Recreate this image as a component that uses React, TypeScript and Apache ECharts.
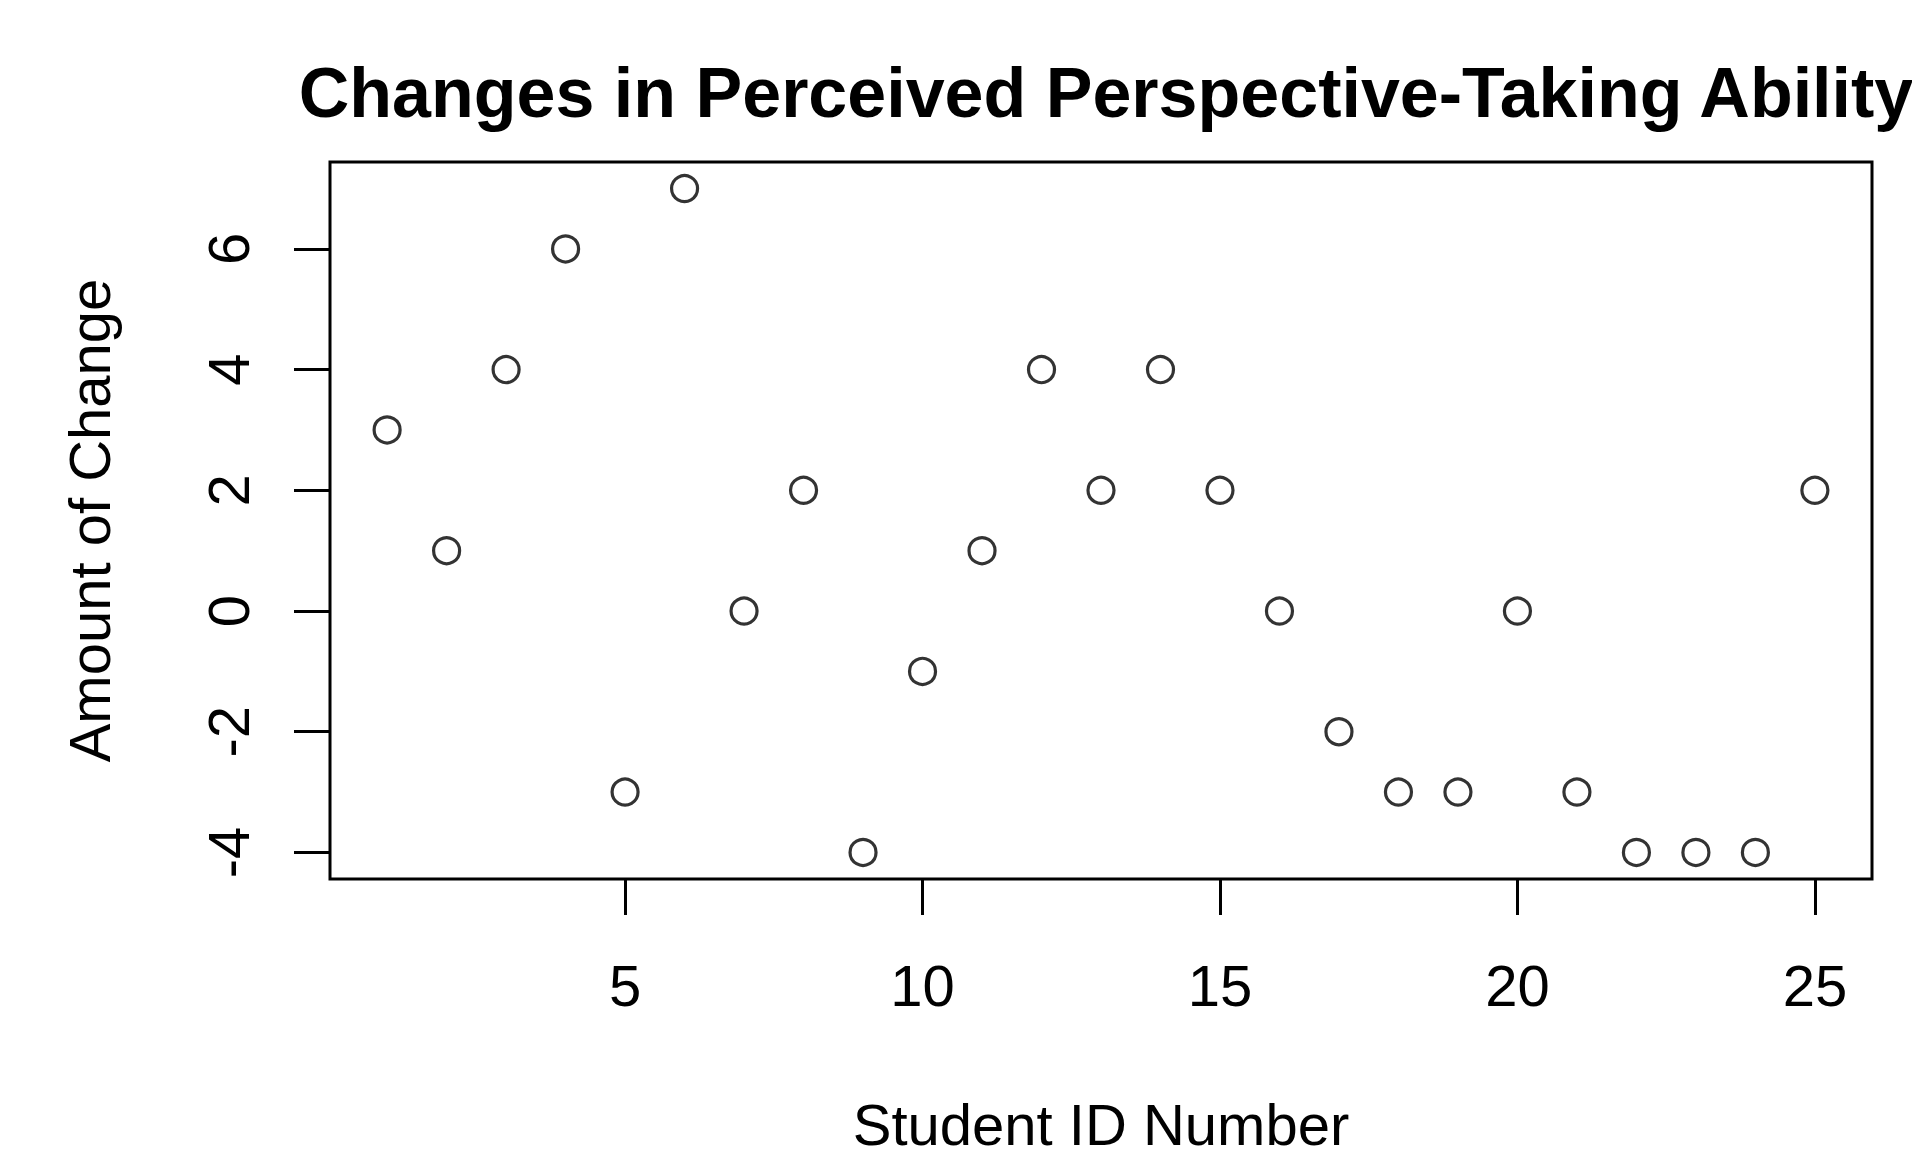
import React, { useEffect, useRef } from "react";
import * as echarts from "echarts";

// Student ID numbers and their change in perceived perspective-taking
const studentIds: number[] = [1, 2, 3, 4, 5, 6, 7, 8, 9, 10, 11, 12, 13, 14, 15, 16, 17, 18, 19, 20, 21, 22, 23, 24, 25];
const changeValues: number[] = [3, 1, 4, 6, -3, 7, 0, 2, -4, -1, 1, 4, 2, 4, 2, 0, -2, -3, -3, 0, -3, -4, -4, -4, 2];

const xTicks: number[] = [5, 10, 15, 20, 25];
const yTicks: number[] = [-4, -2, 0, 2, 4, 6];

const titleText = "Changes in Perceived Perspective-Taking Ability";
const xAxisTitle = "Student ID Number";
const yAxisTitle = "Amount of Change";

const FONT = "'Liberation Sans', Arial, Helvetica, sans-serif";

// R-style 4% padding around the data range
function padRange(values: number[]): [number, number] {
  const lo = Math.min(...values);
  const hi = Math.max(...values);
  const pad = (hi - lo) * 0.04;
  return [lo - pad, hi + pad];
}

export default function App() {
  const ref = useRef<HTMLDivElement | null>(null);

  useEffect(() => {
    if (!ref.current) return;
    const chart = echarts.init(ref.current, undefined, { renderer: "svg" });
    const [xMin, xMax] = padRange(studentIds);
    const [yMin, yMax] = padRange(changeValues);

    const gridLeft = 330;
    const gridRight = 1872;
    const gridTop = 162;
    const gridBottom = 879;

    chart.setOption({
      animation: false,
      backgroundColor: "#ffffff",
      title: {
        text: titleText,
        left: (gridLeft + gridRight) / 2,
        top: 53,
        textAlign: "center",
        textStyle: {
          fontFamily: FONT,
          fontWeight: "bold",
          fontSize: 70,
          color: "#000",
        },
      },
      grid: {
        left: gridLeft,
        top: gridTop,
        width: gridRight - gridLeft,
        height: gridBottom - gridTop,
        outerBoundsMode: "none",
        containLabel: false,
        show: true,
        borderColor: "#000",
        borderWidth: 3,
        backgroundColor: "transparent",
      },
      xAxis: {
        type: "value",
        min: xMin,
        max: xMax,
        name: xAxisTitle,
        nameLocation: "middle",
        nameGap: 216,
        nameTextStyle: { fontFamily: FONT, fontSize: 58, color: "#000" },
        axisLine: { show: false, onZero: false },
        splitLine: { show: false },
        axisTick: {
          show: true,
          length: 36,
          customValues: xTicks,
          lineStyle: { color: "#000", width: 3 },
        },
        axisLabel: {
          customValues: xTicks,
          margin: 77,
          fontFamily: FONT,
          fontSize: 58,
          color: "#000",
        },
      },
      yAxis: {
        type: "value",
        min: yMin,
        max: yMax,
        name: yAxisTitle,
        nameLocation: "middle",
        nameRotate: 90,
        nameGap: 212,
        nameTextStyle: { fontFamily: FONT, fontSize: 58, color: "#000" },
        axisLine: { show: false, onZero: false },
        splitLine: { show: false },
        axisTick: {
          show: true,
          length: 36,
          customValues: yTicks,
          lineStyle: { color: "#000", width: 3 },
        },
        axisLabel: {
          customValues: yTicks,
          rotate: 90,
          margin: 73,
          fontFamily: FONT,
          fontSize: 58,
          color: "#000",
        },
      },
      series: [
        {
          type: "scatter",
          data: studentIds.map((id, i) => [id, changeValues[i]]),
          symbol: "circle",
          symbolSize: 26,
          itemStyle: {
            color: "rgba(0,0,0,0)",
            borderColor: "#000",
            borderWidth: 3.2,
          },
        },
      ],
    });

    return () => chart.dispose();
  }, []);

  return (
    <div
      ref={ref}
      style={{ position: "fixed", left: 0, top: 0, width: 1912, height: 1151, background: "#fff" }}
    />
  );
}
